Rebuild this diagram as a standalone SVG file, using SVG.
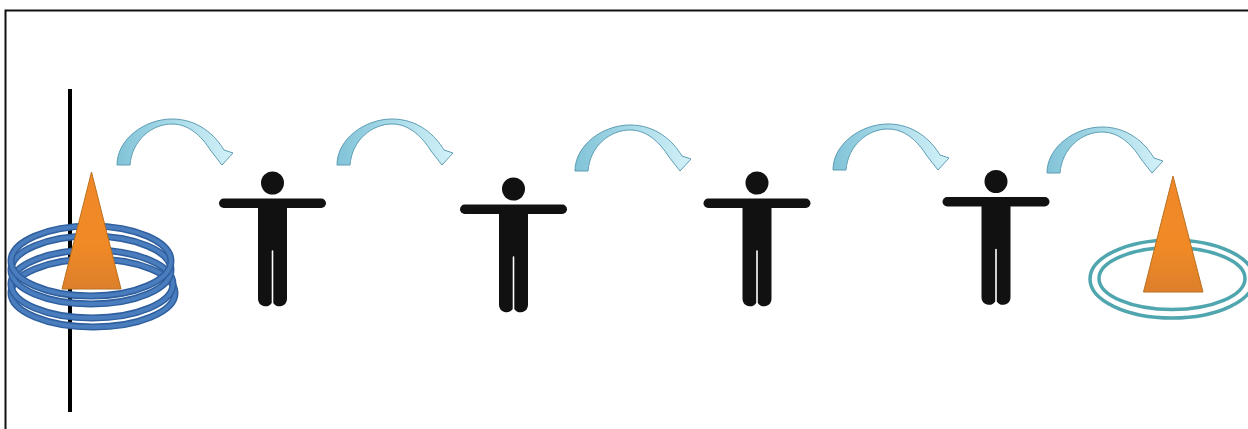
<svg xmlns="http://www.w3.org/2000/svg" xmlns:xlink="http://www.w3.org/1999/xlink" width="1248" height="429" viewBox="0 0 1248 429">
<style>
.ring{fill:none;stroke:#2f5f9e;stroke-width:7}
.ringi{fill:none;stroke:#4a7dbd;stroke-width:4}
.halo{fill:none;stroke:#4fa6ae;stroke-width:3.5}
.cone{fill:url(#coneG);stroke:#b9701f;stroke-width:1}
.arrow{fill:url(#arrowG);stroke:#5d9db3;stroke-width:1;stroke-linejoin:round}
.body{fill:#111}
</style>
<defs>
<linearGradient id="coneG" x1="0" y1="0" x2="0" y2="1"><stop offset="0" stop-color="#f0872a"/><stop offset="0.6" stop-color="#f08a25"/><stop offset="1" stop-color="#dd7f2c"/></linearGradient>
<linearGradient id="arrowG" x1="0" y1="0" x2="1" y2="0"><stop offset="0" stop-color="#82c3d8"/><stop offset="0.5" stop-color="#a9dbe9"/><stop offset="1" stop-color="#d3f1f8"/></linearGradient>
<g id="person">
<circle class="body" cx="0" cy="-20" r="11.5"/>
<rect class="body" x="-53.5" y="-4.5" width="107" height="9.5" rx="4.7"/>
<path class="body" d="M-14.500 0H14.500V96A7.500 7.500 0 0 1 0.800 100V48A0.800 0.800 0 0 0 -0.800 48V100A7.500 7.500 0 0 1 -14.500 96Z"/>
</g>
<path id="arc" class="arrow" d="M1 47C1 21 29 1 56 1C82 1 99 17 108 32L117 35L106 47L95 33C85 17 72 6 56 6C36 6 16 22 14 47Z"/>
</defs>
<rect x="5.500" y="10.500" width="1250" height="430" fill="#fff" stroke="#111" stroke-width="2"/>
<g id="connectors">
<use xlink:href="#arc" href="#arc" x="116" y="118"/>
<use xlink:href="#arc" href="#arc" x="336" y="118"/>
<use xlink:href="#arc" href="#arc" x="574" y="124"/>
<use xlink:href="#arc" href="#arc" x="832" y="123"/>
<use xlink:href="#arc" href="#arc" x="1046" y="126"/>
</g>
<g id="source">
<rect x="68" y="89" width="4" height="323" fill="#000"/>
<g id="coil">
<ellipse class="ring" cx="93" cy="293" rx="82" ry="34"/><ellipse class="ringi" cx="93" cy="293" rx="82" ry="34"/>
<ellipse class="ring" cx="92" cy="284" rx="81" ry="34"/><ellipse class="ringi" cx="92" cy="284" rx="81" ry="34"/>
<ellipse class="ring" cx="91" cy="270" rx="80" ry="34"/><ellipse class="ringi" cx="91" cy="270" rx="80" ry="34"/>
<ellipse class="ring" cx="91" cy="261" rx="80" ry="35"/><ellipse class="ringi" cx="91" cy="261" rx="80" ry="35"/>
</g>
<polygon class="cone" points="91.500,172 62,289 121,289"/>
</g>
<g id="person1"><use xlink:href="#person" href="#person" x="272.500" y="203"/></g>
<g id="person2"><use xlink:href="#person" href="#person" x="513.500" y="209"/></g>
<g id="person3"><use xlink:href="#person" href="#person" x="757" y="203"/></g>
<g id="person4"><use xlink:href="#person" href="#person" x="996" y="201.500"/></g>
<g id="target">
<ellipse class="halo" cx="1172" cy="279" rx="82" ry="39"/>
<ellipse class="halo" cx="1172" cy="278.500" rx="73" ry="31"/>
<polygon class="cone" points="1173,176 1143.500,292 1203,292"/>
</g>
</svg>
